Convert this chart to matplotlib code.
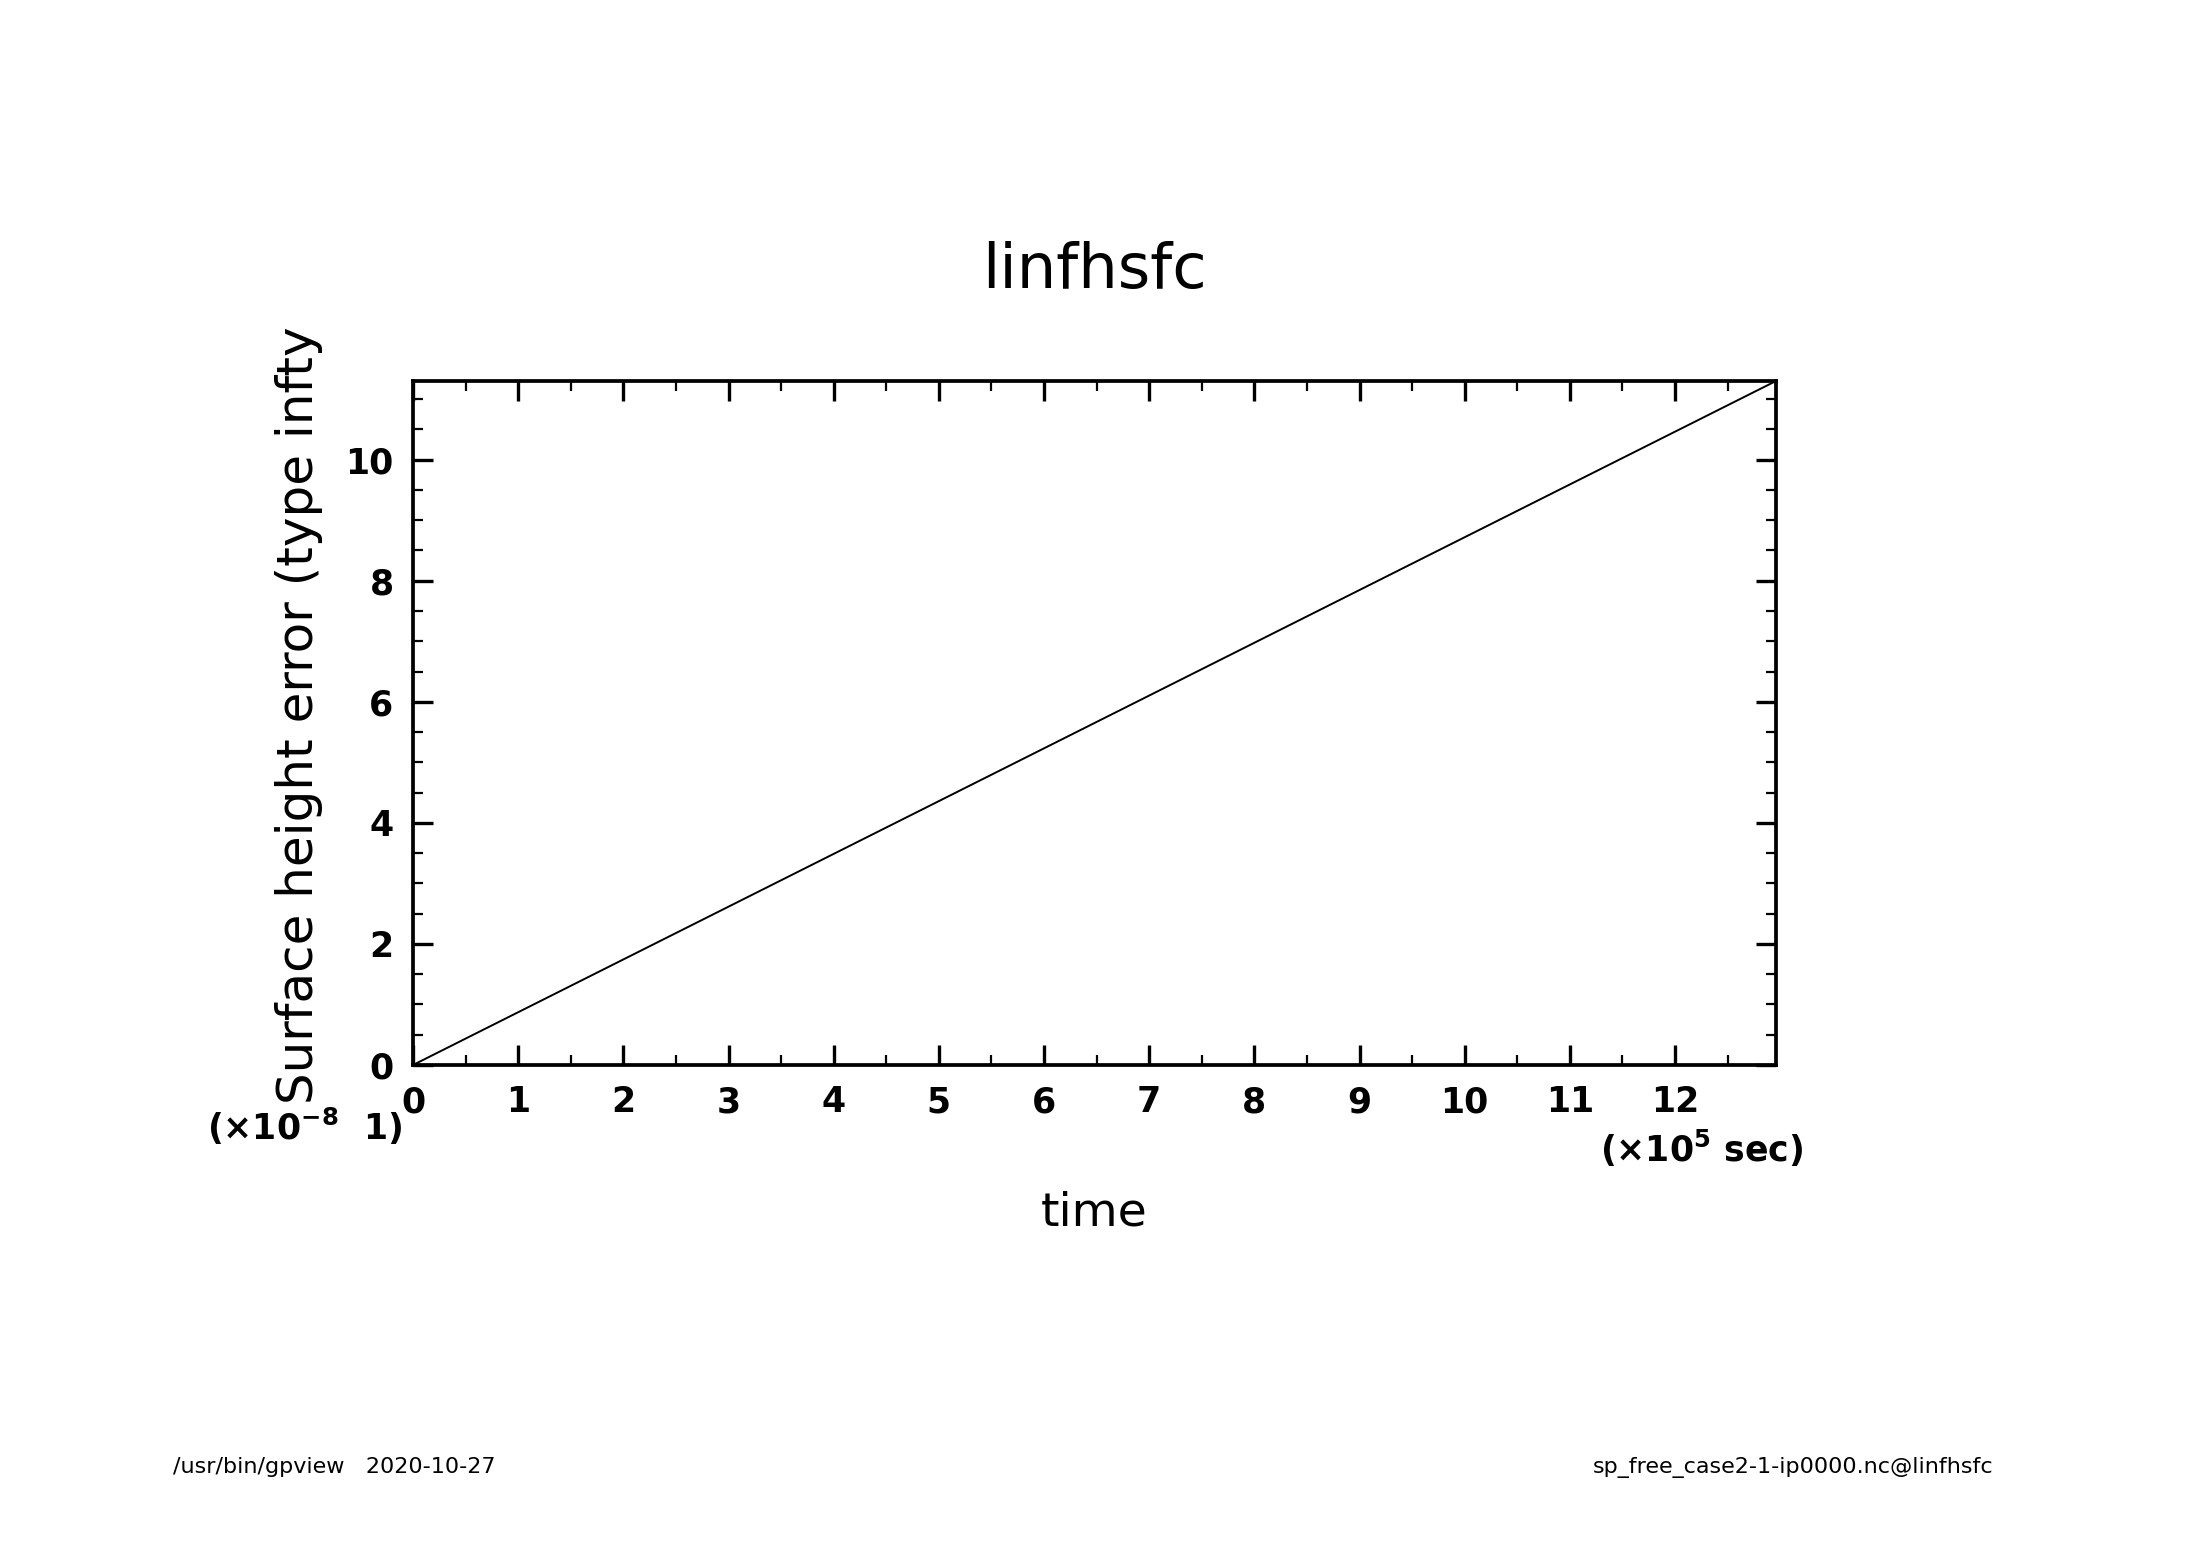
import numpy as np
import matplotlib
matplotlib.use("Agg")
import matplotlib.pyplot as plt
from matplotlib.ticker import MultipleLocator

# data (time in 1e5 sec, error in 1e-8)
time_1e5 = [0.0, 12.96]
err_1e8 = [0.0, 11.3]
xticks = list(range(0, 13))
yticks = [0, 2, 4, 6, 8, 10]

title = "linfhsfc"
xlabel = "time"
ylabel = "Surface height error (type infty"
footer_left = "/usr/bin/gpview   2020-10-27"
footer_right = "sp_free_case2-1-ip0000.nc@linfhsfc"

plt.rcParams['font.family'] = ['DejaVu Sans']
plt.rcParams['mathtext.fontset'] = 'dejavusans'

W, H = 2188, 1546
fig = plt.figure(figsize=(W / 100, H / 100), dpi=100)

def px(x, y):
    # pixel position (from top-left) -> figure fraction
    return x / W, 1 - y / H

ax = fig.add_axes([413 / W, 1 - 1065 / H, (1776 - 413) / W, (1065 - 381) / H])
ax.plot(time_1e5, err_1e8, color='black', lw=1.4)
ax.set_xlim(0, time_1e5[-1])
ax.set_ylim(0, err_1e8[-1])

ax.set_xticks(xticks)
ax.set_yticks(yticks)
ax.xaxis.set_minor_locator(MultipleLocator(0.5))
ax.yaxis.set_minor_locator(MultipleLocator(0.5))
ax.tick_params(which='both', direction='in', top=True, right=True)
ax.tick_params(which='major', length=14.4, width=2.4)
ax.tick_params(which='minor', length=7.2, width=1.6)
ax.tick_params(axis='x', which='major', pad=14.5)
ax.tick_params(axis='y', which='major', pad=14)
for lab in ax.get_xticklabels() + ax.get_yticklabels():
    lab.set_fontsize(25)
    lab.set_fontweight('bold')
for s in ax.spines.values():
    s.set_linewidth(2.7)

# title and axis labels
fig.text(*px(1094.5, 288), title, fontsize=45, ha='center', va='baseline')
fig.text(*px(1094.5, 1225), xlabel, fontsize=34, ha='center', va='baseline')
fig.text(*px(299, 715), ylabel, fontsize=36, rotation=90, ha='center', va='center')

# unit labels
fig.text(*px(402, 1140), r'(×10$^{\mathbf{-8}}$  1)', fontsize=25, fontweight='bold',
         ha='right', va='baseline')
fig.text(*px(1803, 1162), r'(×10$^{\mathbf{5}}$ sec)', fontsize=25, fontweight='bold',
         ha='right', va='baseline')

# footer
fig.text(*px(173, 1473), footer_left, fontsize=16, ha='left', va='baseline')
fig.text(*px(1993, 1473), footer_right, fontsize=16, ha='right', va='baseline')

fig.savefig("out.png", dpi=100, facecolor='white')
